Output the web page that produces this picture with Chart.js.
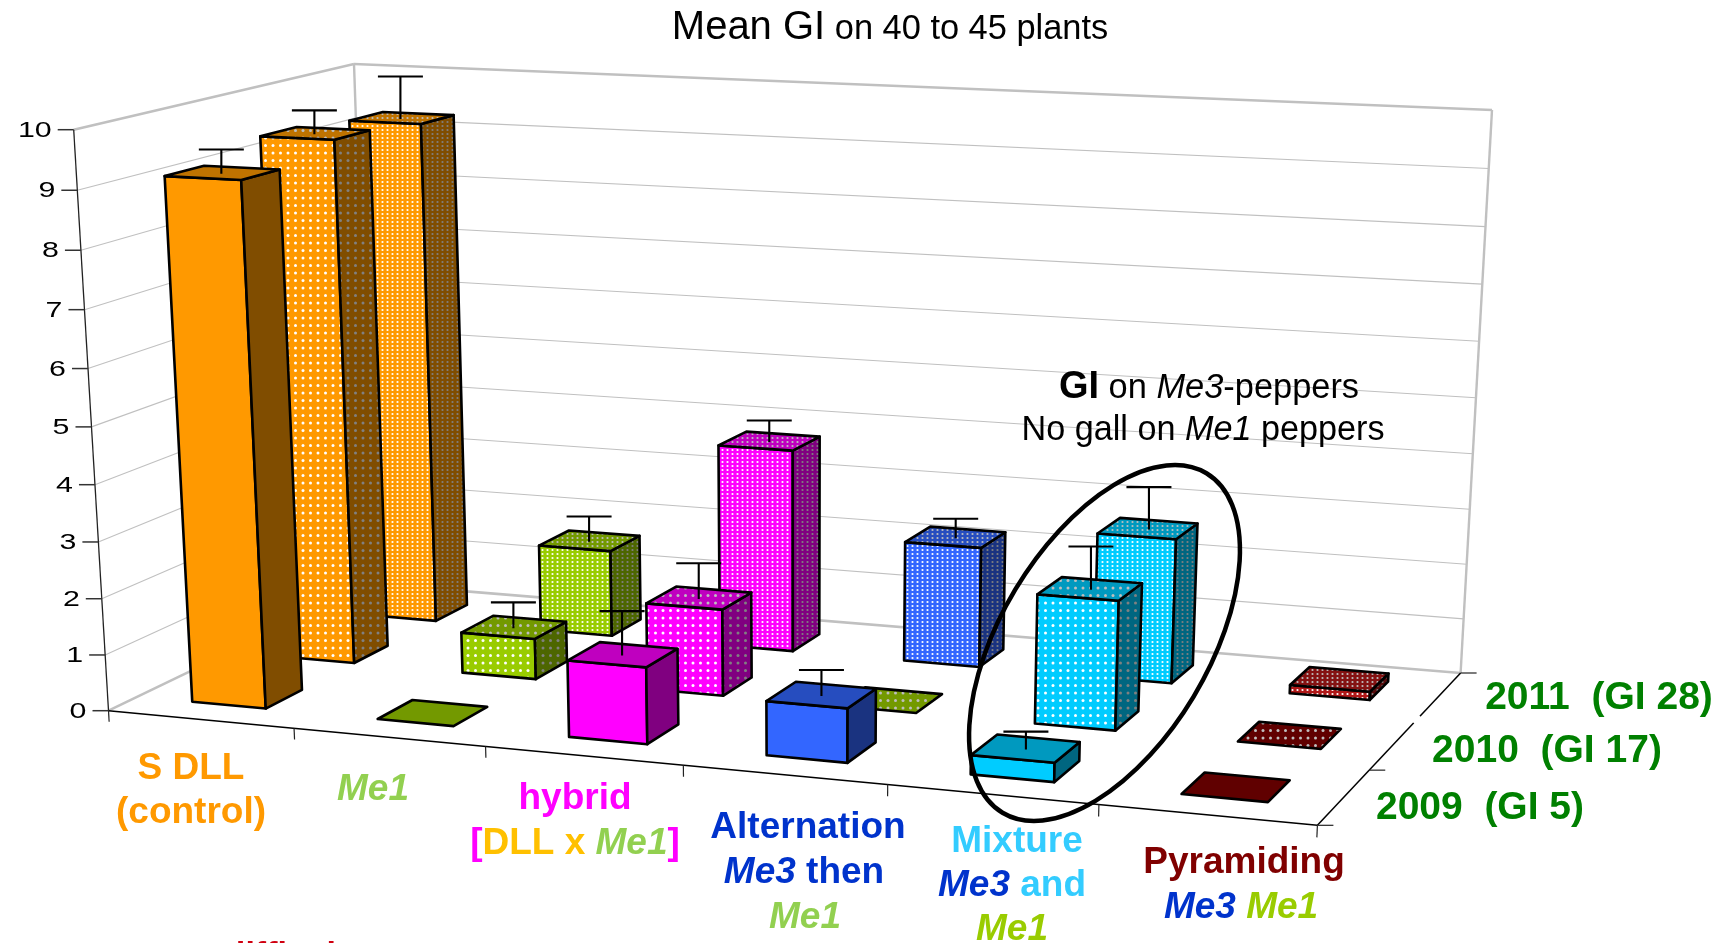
<!DOCTYPE html>
<html>
<head>
<meta charset="utf-8">
<title>Mean GI on 40 to 45 plants</title>
<style>html,body{margin:0;padding:0;background:#fff}canvas{display:block}</style>
<script src="https://cdn.jsdelivr.net/npm/chart.js@4/dist/chart.umd.js"></script>
</head>
<body>
<canvas id="chart" width="1724" height="943"></canvas>
<script>
// Chart values
const categories = ['S DLL', 'Me1', 'hybrid', 'Alternation', 'Mixture', 'Pyramiding'];
const yearLabels = ['2011  (GI 28)', '2010  (GI 17)', '2009  (GI 5)'];
const gi2009 = [9.15, 0, 1.34, 0.94, 0.33, 0];
const gi2010 = [9.4, 0.74, 1.56, 0, 2.28, 0];
const gi2011 = [9.27, 1.61, 3.73, 2.2, 2.62, 0.15];
const err2009 = [0.39, 0, 0.76, 0.43, 0.29, 0];
const err2010 = [0.4, 0.46, 0.63, 0, 0.74, 0];
const err2011 = [0.75, 0.46, 0.38, 0.34, 0.75, 0];
const colors2009 = ['#FF9900', '#99CC00', '#FF00FF', '#3366FF', '#00CCFF', '#800000'];
const colors2010 = ['#FF9900', '#99CC00', '#FF00FF', '#99CC00', '#00CCFF', '#800000'];
const colors2011 = ['#FF9900', '#99CC00', '#FF00FF', '#3366FF', '#00CCFF', '#B01818'];

// Camera of the 3D box: where the box corners land on the page
const FLOOR = { fl: [108.5, 710.7], fr: [1317.4, 825.3], br: [1460.6, 673], bl: [372, 583.6] };
const TOP = { fl: [73.7, 129.7], fr: [1345, 189.5], br: [1492, 110], bl: [354, 64] };
const TOP_WEIGHT = 0.955;
const FONT = '"Liberation Sans", Arial, sans-serif';
const GRID = '#C0C0C0';
const CAP_WIDTH = 45;
const SHADE_SIDE = 0.5, SHADE_TOP = 0.75;
const BAR_DEPTH = 0.4;
const TEXTURES = {
  sparse: { w: 15, h: 15, r: 1.5, at: [[3, 3], [10.5, 3], [3, 10.5], [10.5, 10.5]] },
  dense: { w: 5, h: 4, r: 1.1, at: [[2.5, 2]] }
};

// Projective map of the unit square onto a quadrilateral
function quadMap(q) {
  const [x0, y0] = q.fl, [x1, y1] = q.fr, [x2, y2] = q.br, [x3, y3] = q.bl;
  const sx = x0 - x1 + x2 - x3, sy = y0 - y1 + y2 - y3;
  const dx1 = x1 - x2, dx2 = x3 - x2, dy1 = y1 - y2, dy2 = y3 - y2;
  const det = dx1 * dy2 - dx2 * dy1;
  const g = (sx * dy2 - dx2 * sy) / det, h = (dx1 * sy - sx * dy1) / det;
  const a = x1 - x0 + g * x1, b = x3 - x0 + h * x3, c = x0;
  const d = y1 - y0 + g * y1, e = y3 - y0 + h * y3, f = y0;
  return (u, v) => [a * u + b * v + c, d * u + e * v + f, g * u + h * v + 1];
}
const floorMap = quadMap(FLOOR), topMap = quadMap(TOP);

// Box space (u along categories, v into depth, w up) to the page
function project(u, v, w) {
  const f = floorMap(u, v), t = topMap(u, v);
  const a = 1 - w, b = w * TOP_WEIGHT;
  const W = a * f[2] + b * t[2];
  return [(a * f[0] + b * t[0]) / W, (a * f[1] + b * t[1]) / W];
}

// Fractions of the chart's scales, so everything on the page goes through them
const fracU = (chart, px) => (px - chart.chartArea.left) / chart.chartArea.width;
const fracW = (chart, py) => (chart.chartArea.bottom - py) / chart.chartArea.height;

// Dot textures used by the 2010 and 2011 series
const tileCache = {};
function shaded(color, shade) {
  const c = parseInt(color.slice(1), 16);
  const ch = s => Math.round(((c >> s) & 255) * shade);
  return `rgb(${ch(16)},${ch(8)},${ch(0)})`;
}
function faceFill(ctx, color, shade, texture) {
  if (texture === 'solid') return shaded(color, shade);
  const key = color + shade + texture;
  if (!tileCache[key]) {
    const spec = TEXTURES[texture];
    const t = document.createElement('canvas');
    t.width = spec.w;
    t.height = spec.h;
    const g = t.getContext('2d');
    g.fillStyle = shaded(color, shade);
    g.fillRect(0, 0, spec.w, spec.h);
    g.fillStyle = shaded('#FFFFFF', shade);
    spec.at.forEach(([x, y]) => {
      g.beginPath();
      g.arc(x, y, spec.r, 0, Math.PI * 2);
      g.fill();
    });
    tileCache[key] = ctx.createPattern(t, 'repeat');
  }
  return tileCache[key];
}
function face(ctx, pts, fill) {
  ctx.beginPath();
  pts.forEach((p, i) => (i ? ctx.lineTo(p[0], p[1]) : ctx.moveTo(p[0], p[1])));
  ctx.closePath();
  ctx.fillStyle = fill;
  ctx.fill();
  ctx.lineJoin = 'round';
  ctx.lineWidth = 2.6;
  ctx.strokeStyle = '#000';
  ctx.stroke();
}

// Bars drawn as prisms from the elements the bar controller lays out
class Prism3DController extends Chart.BarController {
  draw() {
    const chart = this.chart, ctx = chart.ctx, ds = this.getDataset();
    const yScale = chart.scales.y, depth = chart.scales.depth;
    const row = depth.getPixelForValue(ds.row);
    const rowSpan = depth.height / depth.ticks.length;
    const vF = fracW(chart, row + rowSpan * BAR_DEPTH / 2);
    const vB = fracW(chart, row - rowSpan * BAR_DEPTH / 2);
    const vC = fracW(chart, row);
    this._cachedMeta.data.forEach((bar, i) => {
      const uL = fracU(chart, bar.x - bar.width / 2), uR = fracU(chart, bar.x + bar.width / 2);
      const uC = fracU(chart, bar.x);
      const w0 = fracW(chart, bar.base), wT = fracW(chart, bar.y);
      const color = ds.backgroundColor[i], tex = ds.texture;
      if (wT > w0) {
        face(ctx, [project(uL, vF, w0), project(uR, vF, w0), project(uR, vF, wT), project(uL, vF, wT)], faceFill(ctx, color, 1, tex));
        face(ctx, [project(uR, vF, w0), project(uR, vB, w0), project(uR, vB, wT), project(uR, vF, wT)], faceFill(ctx, color, SHADE_SIDE, tex));
      }
      face(ctx, [project(uL, vF, wT), project(uR, vF, wT), project(uR, vB, wT), project(uL, vB, wT)], faceFill(ctx, color, SHADE_TOP, tex));
      const err = ds.errors[i];
      if (err > 0) {
        const from = project(uC, vC, wT);
        const to = project(uC, vC, fracW(chart, yScale.getPixelForValue(ds.data[i] + err)));
        ctx.strokeStyle = '#000';
        ctx.lineWidth = 2.1;
        ctx.beginPath();
        ctx.moveTo(to[0], from[1] + 1);
        ctx.lineTo(to[0], to[1]);
        ctx.moveTo(to[0] - CAP_WIDTH / 2, to[1]);
        ctx.lineTo(to[0] + CAP_WIDTH / 2, to[1]);
        ctx.stroke();
      }
    });
  }
}
Prism3DController.id = 'prism3d';
Prism3DController.defaults = { ...Chart.BarController.defaults };
Prism3DController.overrides = Chart.BarController.overrides;
Chart.register(Prism3DController);

function segment(ctx, a, b, color, width) {
  ctx.strokeStyle = color;
  ctx.lineWidth = width;
  ctx.beginPath();
  ctx.moveTo(a[0], a[1]);
  ctx.lineTo(b[0], b[1]);
  ctx.stroke();
}

// Walls, floor edges, axis ticks and tick labels of the box
const boxPlugin = {
  id: 'box3d',
  beforeDatasetsDraw(chart) {
    const ctx = chart.ctx, y = chart.scales.y, x = chart.scales.x, depth = chart.scales.depth;
    ctx.save();
    ctx.lineCap = 'butt';
    y.ticks.forEach(t => {
      const w = fracW(chart, y.getPixelForValue(t.value));
      const isEdge = t.value === y.min || t.value === y.max;
      const col = GRID, lw = isEdge ? 2.6 : 1.1;
      segment(ctx, project(0, 0, w), project(0, 1, w), col, lw);
      segment(ctx, project(0, 1, w), project(1, 1, w), col, lw);
    });
    segment(ctx, project(0, 1, 0), project(0, 1, 1), GRID, 2.4);
    segment(ctx, project(1, 1, 0), project(1, 1, 1), GRID, 2.4);
    segment(ctx, project(0, 0, 0), project(0, 0, 1), '#222', 1.3);
    segment(ctx, project(0, 0, 0), project(1, 0, 0), '#000', 1.5);
    segment(ctx, project(1, 0, 0), project(1, 1, 0), '#000', 1.5);

    // Value axis ticks and numbers, slightly widened
    y.ticks.forEach(t => {
      const p = project(0, 0, fracW(chart, y.getPixelForValue(t.value)));
      segment(ctx, [p[0] - 16, p[1]], p, '#333', 1.5);
      ctx.save();
      ctx.translate(p[0] - 22, p[1] + 1);
      ctx.scale(1.38, 1);
      ctx.font = `22px ${FONT}`;
      ctx.fillStyle = '#000';
      ctx.textAlign = 'right';
      ctx.textBaseline = 'middle';
      ctx.fillText(String(t.value), 0, 0);
      ctx.restore();
    });
    // Category boundaries
    for (let i = 0; i <= categories.length; i++) {
      const u = fracU(chart, x.getPixelForValue(i - 0.5));
      segment(ctx, project(u, 0, 0), project(u, 0, -0.02), '#222', 1.2);
    }
    // Depth boundaries; the label box of 2011 interrupts the axis at the third one
    for (let i = 0; i <= yearLabels.length; i += 1) {
      const v = fracW(chart, depth.getPixelForValue(yearLabels.length - 0.5 - i));
      const p = project(1, v, 0);
      if (i === 2) {
        segment(ctx, [p[0] - 3, p[1] + 3.5], [p[0] + 3, p[1] - 3.5], '#fff', 4);
      } else {
        segment(ctx, p, [p[0] + 16, p[1]], '#222', 1.2);
      }
    }
    ctx.restore();
  },
  afterDatasetsDraw(chart) {
    const ctx = chart.ctx, depth = chart.scales.depth;
    ctx.save();
    // Title and labels
    runs(ctx, 890, 39, [['Mean GI', '40px', '#000'], [' on 40 to 45 plants', '34.4px', '#000']]);
    runs(ctx, 1209, 398, [['GI', 'bold 38px', '#000'], [' on ', '34.4px', '#000'], ['Me3', 'italic 34.4px', '#000'], ['-peppers', '34.4px', '#000']]);
    runs(ctx, 1203, 440, [['No gall on ', '34.2px', '#000'], ['Me1', 'italic 34.2px', '#000'], [' peppers', '34.2px', '#000']]);

    const B = 'bold 37px', I = 'italic bold 37px';
    const ORANGE = '#FF9900', LEAF = '#92D050', LIME = '#99CC00', PINK = '#FF00FF', GOLD = '#FFC000', NAVY = '#0033CC', SKY = '#33CCFF', WINE = '#800000';
    runs(ctx, 191, 779, [['S DLL', B, ORANGE]]);
    runs(ctx, 191, 823, [['(control)', B, ORANGE]]);
    runs(ctx, 373, 800, [['Me1', I, LEAF]]);
    runs(ctx, 575, 809, [['hybrid', B, PINK]]);
    runs(ctx, 575, 854, [['[', B, PINK], ['DLL x ', B, GOLD], ['Me1', I, LEAF], [']', B, PINK]]);
    runs(ctx, 808, 838, [['Alternation', B, NAVY]]);
    runs(ctx, 804, 883, [['Me3', I, NAVY], [' then', B, NAVY]]);
    runs(ctx, 805, 928, [['Me1', I, LEAF]]);
    runs(ctx, 1017, 852, [['Mixture', B, SKY]]);
    runs(ctx, 1012, 896, [['Me3', I, NAVY], [' and', B, SKY]]);
    runs(ctx, 1012, 940, [['Me1', I, LIME]]);
    runs(ctx, 1244, 873, [['Pyramiding', B, WINE]]);
    runs(ctx, 1241, 918, [['Me3', I, NAVY], [' ', B, NAVY], ['Me1', I, LIME]]);

    // Year labels come from the depth axis
    const GREEN = '#008000', yearAt = [[1599, 709], [1547, 762], [1480, 819]];
    depth.getLabels().forEach((label, i) => runs(ctx, yearAt[i][0], yearAt[i][1], [[label, 'bold 39px', GREEN]]));

    // Red caption running off the page
    runs(ctx, 286, 965, [['difficult', 'bold 34px', '#D00010']]);

    // Ring around the Mixture bars
    ctx.strokeStyle = '#000';
    ctx.lineWidth = 4.5;
    ctx.beginPath();
    ctx.ellipse(1104.5, 643, 198, 104, -59 * Math.PI / 180, 0, Math.PI * 2);
    ctx.stroke();
    ctx.restore();
  }
};

// Mixed-style text, centred as a whole on cx
function runs(ctx, cx, baseline, parts) {
  ctx.textBaseline = 'alphabetic';
  ctx.textAlign = 'left';
  let total = 0;
  parts.forEach(p => { ctx.font = `${p[1]} ${FONT}`; total += ctx.measureText(p[0]).width; });
  let x = cx - total / 2;
  parts.forEach(p => {
    ctx.font = `${p[1]} ${FONT}`;
    ctx.fillStyle = p[2];
    ctx.fillText(p[0], x, baseline);
    x += ctx.measureText(p[0]).width;
  });
}

new Chart(document.getElementById('chart'), {
  type: 'prism3d',
  data: {
    labels: categories,
    datasets: [
      { label: '2009', data: gi2009, errors: err2009, backgroundColor: colors2009, texture: 'solid', row: 2 },
      { label: '2010', data: gi2010, errors: err2010, backgroundColor: colors2010, texture: 'sparse', row: 1 },
      { label: '2011', data: gi2011, errors: err2011, backgroundColor: colors2011, texture: 'dense', row: 0 }
    ].map(d => ({ ...d, grouped: false, barPercentage: 0.4, categoryPercentage: 1, clip: false }))
  },
  options: {
    responsive: false,
    animation: false,
    layout: { padding: 100 },
    plugins: { legend: { display: false }, tooltip: { enabled: false }, title: { display: false } },
    scales: {
      x: { type: 'category', display: false, offset: true },
      y: { type: 'linear', display: false, min: 0, max: 10, ticks: { stepSize: 1 } },
      depth: { type: 'category', axis: 'y', display: false, labels: yearLabels, offset: true }
    }
  },
  plugins: [boxPlugin]
});
</script>
</body>
</html>
